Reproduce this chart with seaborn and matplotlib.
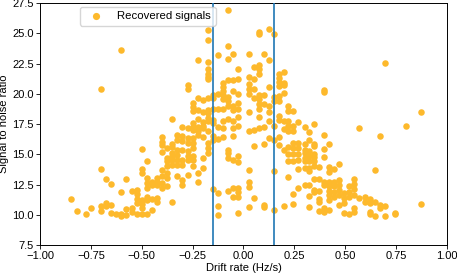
import matplotlib
matplotlib.use("Agg")
import matplotlib.pyplot as plt
import seaborn as sns
import pandas as pd

plt.rcParams['font.family'] = ['Liberation Sans', 'DejaVu Sans']

# drift rate columns (Hz/s) and the SNR values read at each column
drift_cols = [-0.85, -0.82, -0.775, -0.75, -0.70, -0.675, -0.65, -0.625, -0.60, -0.575,
              -0.55, -0.525, -0.50, -0.475, -0.45, -0.425, -0.40, -0.375, -0.35, -0.325,
              -0.30, -0.275, -0.25, -0.225, -0.20, -0.175, -0.15, -0.125, -0.10, -0.075,
              -0.05, -0.025, 0.025, 0.05, 0.075, 0.10, 0.125, 0.15, 0.175, 0.20,
              0.22, 0.245, 0.27, 0.30, 0.32, 0.345, 0.37, 0.395, 0.42, 0.445,
              0.47, 0.495, 0.52, 0.545, 0.57, 0.595, 0.62, 0.645, 0.67, 0.695,
              0.745, 0.80, 0.87]

snr_cols = [
    [11.34], [10.34], [10.07], [10.54],
    [20.39, 13.80, 10.73, 10.34],
    [12.97, 10.96, 10.73],
    [12.56, 10.79, 10.13],
    [10.05],
    [23.62, 11.87, 10.05, 9.93],
    [12.95, 10.46, 9.99],
    [11.98, 10.54, 10.26],
    [12.06, 11.73, 11.31, 11.01, 10.05],
    [15.44, 13.80, 13.45, 11.23, 10.87, 10.54, 10.05],
    [14.47, 13.08, 12.62, 12.20, 11.51, 11.23, 10.05],
    [12.75, 12.48, 11.31, 10.40],
    [13.03, 12.75, 12.48, 11.37, 11.09],
    [16.44, 16.02, 15.74, 15.19, 13.72, 13.17, 12.62, 12.20],
    [15.52, 14.69, 14.41, 14.00, 13.45, 13.03, 12.34],
    [17.95, 15.88, 15.61, 15.11, 14.83, 14.55, 14.14, 11.04],
    [16.63, 16.21, 15.38, 14.97, 14.55, 14.14, 13.17],
    [17.23, 16.49, 16.07, 15.38, 14.55, 14.14, 12.89, 12.48],
    [20.69, 20.42, 17.18, 16.35, 15.94, 15.24, 14.83, 14.55, 13.31],
    [19.20, 18.89, 18.56, 17.60, 17.27, 17.04, 16.35, 15.94, 15.52, 14.83, 14.55, 14.00],
    [22.77, 19.61, 18.62, 17.95, 17.27, 16.90, 16.63, 13.45, 12.75],
    [19.47, 18.48, 17.65, 17.37, 17.18, 16.40, 14.69, 13.86],
    [25.28, 24.43, 22.63, 22.02, 21.66, 21.41, 21.19, 19.67, 18.70, 18.37, 18.01, 17.73,
     16.90, 15.94, 15.52, 15.11],
    [19.86, 19.61, 18.76, 17.87, 17.60, 16.49, 16.21, 12.14],
    [23.21, 19.95, 18.76, 17.27, 16.29, 11.79, 10.76, 9.99],
    [20.92, 20.55, 20.22, 19.86, 19.53, 18.78, 17.79, 17.18, 16.40],
    [26.94, 23.95, 22.85, 21.13, 19.76, 19.39, 19.03, 17.93, 15.38, 15.11, 14.69, 11.98],
    [23.32, 21.13, 20.22, 19.03, 18.64, 17.73, 17.18, 16.49, 14.55, 12.25, 11.51],
    [22.02, 21.19, 20.00, 19.20, 18.78, 18.10, 17.32, 14.83, 14.36, 12.20, 11.92, 11.51, 10.13],
    [23.32, 21.41, 20.83, 20.36, 20.00, 18.48, 16.96, 13.72, 12.70, 12.29, 10.63],
    [22.24, 21.25, 20.36, 19.61, 17.04, 15.71, 11.37],
    [25.13, 24.97, 22.35, 22.02, 21.66, 19.86, 19.53, 19.12, 18.76, 18.10, 17.18],
    [23.27, 19.86, 19.12, 17.23, 15.88, 10.82, 10.68],
    [25.32, 22.77, 20.55, 18.98, 18.48, 17.73, 16.35],
    [24.93, 19.76, 19.39, 17.32, 16.21, 13.64, 10.40],
    [21.66, 21.33, 20.97, 20.63, 19.81, 19.39, 18.20, 17.87, 16.40, 15.80],
    [21.83, 20.92, 20.72, 20.03, 17.79, 17.12, 15.38, 10.76],
    [18.98, 18.56, 17.79, 17.37, 16.90, 15.57, 15.02, 14.47, 13.12],
    [18.56, 17.37, 16.90, 15.94, 15.52, 15.02, 14.47, 11.73, 10.93],
    [17.68, 15.94, 15.52, 15.02, 14.55, 13.80, 12.20],
    [17.27, 15.88, 15.38, 15.11, 14.69, 14.47, 13.86, 12.48],
    [16.85, 16.15, 15.24, 14.83, 14.41, 13.86, 13.58, 12.42, 11.56, 10.63],
    [17.51, 15.88, 15.66, 15.02, 14.78, 14.41, 14.00, 12.97, 12.06, 11.87],
    [13.95, 12.97, 12.00, 11.31, 11.09, 10.34],
    [20.28, 20.15, 16.57, 15.44, 14.74, 12.75, 12.42, 10.54, 10.26],
    [15.85, 13.91, 13.50, 12.75, 12.34, 12.00, 11.65, 11.23, 10.40],
    [13.80, 12.75, 12.34, 11.92, 11.46],
    [14.22, 12.89, 12.48, 12.06, 11.65, 10.82],
    [11.79, 11.37, 10.96, 10.13],
    [12.34, 11.92, 11.51, 10.07],
    [12.95, 12.54, 12.12, 11.65, 10.54, 10.26],
    [17.18, 11.37],
    [11.51, 11.09],
    [11.29, 10.96, 10.26, 10.07],
    [13.72, 11.09, 9.93],
    [16.49, 10.82, 10.54],
    [22.58, 10.73, 9.93],
    [10.18, 10.05],
    [17.32],
    [18.48, 10.90],
]

cut_lines = [-0.15, 0.15]
x_ticks = [-1.0, -0.75, -0.5, -0.25, 0.0, 0.25, 0.5, 0.75, 1.0]
y_ticks = [7.5, 10.0, 12.5, 15.0, 17.5, 20.0, 22.5, 25.0, 27.5]

rows = [(x, y) for x, ys in zip(drift_cols, snr_cols) for y in ys]
df = pd.DataFrame(rows, columns=["drift", "snr"])

fig = plt.figure(figsize=(4.57, 2.75), dpi=100)
ax = fig.add_axes([0.0875, 0.109, 0.8906, 0.880])

sns.scatterplot(data=df, x="drift", y="snr", color="#fdb92c", s=22, linewidth=0,
                ax=ax, label="Recovered signals", zorder=2)
for v in cut_lines:
    ax.axvline(v, color="#1f77b4", lw=1.2, zorder=3)

ax.set_xlim(-1, 1)
ax.set_ylim(7.5, 27.5)
ax.set_xticks(x_ticks)
ax.set_yticks(y_ticks)
ax.yaxis.set_major_formatter(matplotlib.ticker.FormatStrFormatter("%.1f"))
ax.xaxis.set_major_formatter(matplotlib.ticker.FuncFormatter(
    lambda v, p: ("%.2f" % v).replace("-", "\u2212")))
ax.set_xlabel("Drift rate (Hz/s)", fontsize=8, labelpad=1)
ax.set_ylabel("Signal to noise ratio", fontsize=8, labelpad=2)
ax.tick_params(labelsize=8, length=3, width=0.6, pad=1.5)
for sp in ax.spines.values():
    sp.set_linewidth(0.7)

ax.legend(loc="upper left", bbox_to_anchor=(0.098, 0.985), borderaxespad=0,
          fontsize=8.2, handletextpad=0.9, markerscale=1.1)

fig.savefig("out.png", dpi=100)
